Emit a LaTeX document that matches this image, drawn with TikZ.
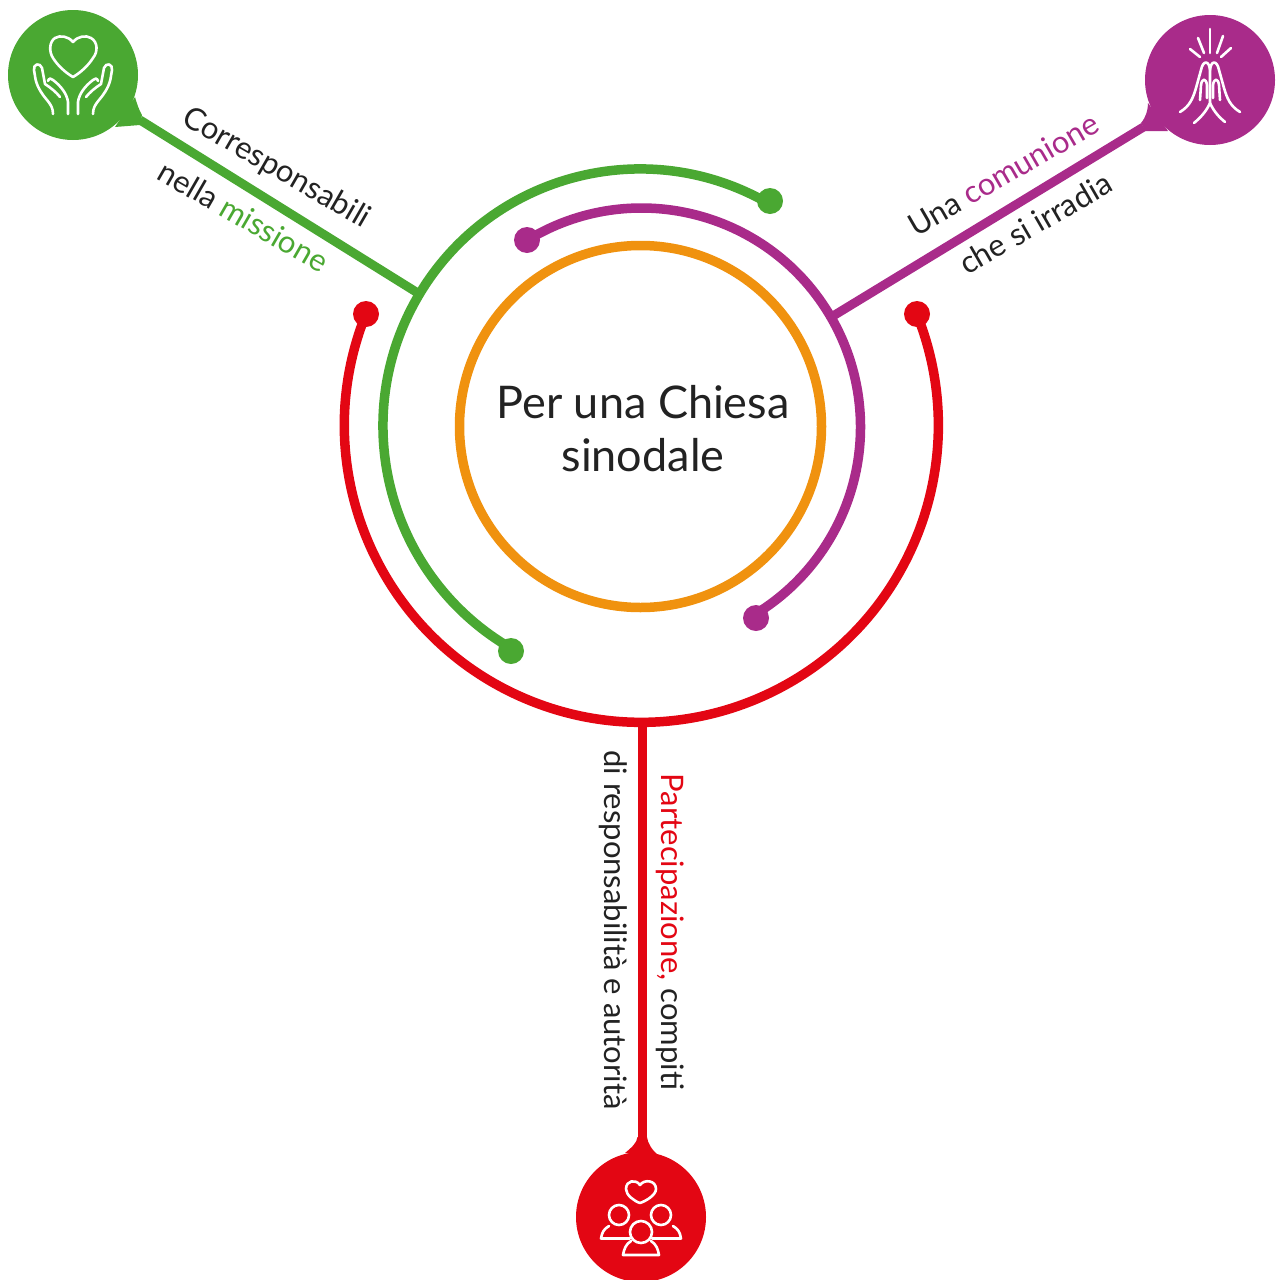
\documentclass[tikz,border=0pt]{standalone}
\usepackage{fontspec}
\setmainfont{Lato}
\definecolor{cgreen}{HTML}{4AA832}
\definecolor{cpurple}{HTML}{A92B8A}
\definecolor{cred}{HTML}{E30613}
\definecolor{corange}{HTML}{F0920F}
\definecolor{ctext}{HTML}{222222}
\tikzset{
  ring/.style={line width=9.5pt},
  spoke/.style={line width=9pt},
  badge/.style={circle,minimum size=130pt,inner sep=0pt,fill=#1},
  blob/.style={circle,minimum size=26pt,inner sep=0pt,fill=#1},
  icon/.style={draw=white,line width=2.6pt,line cap=round,line join=round,fill=none},
  lab/.style={font=\fontsize{31}{31}\selectfont,text=ctext,inner sep=0pt,text height=23pt,text depth=7pt},
  title/.style={font=\fontsize{45}{53}\selectfont,text=ctext,align=center,inner sep=0pt}
}
\begin{document}
\begin{tikzpicture}[x=1pt,y=-1pt]
\useasboundingbox (0,0) rectangle (1275,1280);
% centre
\node[title] (t) at (643,429) {Per una Chiesa\\sinodale};
\draw[corange,ring] (640.5,426.5) circle[radius=181];
% badges
\node[badge=cgreen] (bg) at (73,75) {};
\node[badge=cpurple] (bp) at (1210,80) {};
\node[badge=cred] (br) at (641,1217) {};
% dots
\node[blob=cgreen] (g1) at (770,201) {};
\node[blob=cgreen] (g2) at (511,651) {};
\node[blob=cpurple] (p1) at (527,240) {};
\node[blob=cpurple] (p2) at (756,618) {};
\node[blob=cred] (r1) at (366,314) {};
\node[blob=cred] (r2) at (917,314) {};
% connectors
\coordinate (gs) at (140,120);
\coordinate (ps) at (1143.5,127);
\coordinate (rs) at (642,1137);
\coordinate (gj) at (417,292.5);
\coordinate (pj) at (833,316);
\coordinate (rj) at (642,724);
\draw[cgreen,spoke] (gs) -- (gj);
\draw[cpurple,spoke] (ps) -- (pj);
\draw[cred,spoke] (rs) -- (rj);
% funnels
\fill[cgreen] (135,97) .. controls (137,104) and (139,110) .. (142,115) -- (140,125) -- (115,127) -- cycle;
\fill[cpurple] (1148,103) .. controls (1148,110) and (1146,117) .. (1141,123) -- (1145,131) -- (1168,131) -- cycle;
\fill[cred] (625,1153) .. controls (631,1148) and (637,1143) .. (637.5,1137) -- (647,1137) .. controls (647.5,1143) and (652,1150) .. (658,1155) -- cycle;
% arcs
\coordinate (ga) at (768.5,203.4);
\coordinate (pa) at (527.1,240.3);
\draw[cred,ring] (r1) arc[start angle=158,end angle=382,x radius=297,y radius=-297];
\draw[cgreen,ring] (ga) arc[start angle=60,end angle=240,x radius=257,y radius=-257];
\draw[cpurple,ring] (pa) arc[start angle=121.5,end angle=-59,x radius=219,y radius=-219];
% labels
\node[lab,rotate=-30] (l1) at (276,169) {Corresponsabili};
\node[lab,rotate=-30] (l2) at (242,219) {nella \textcolor{cgreen}{missione}};
\node[lab,rotate=30] (l3) at (1005,177) {Una \textcolor{cpurple}{comunione}};
\node[lab,rotate=30] (l4) at (1037,226) {che si irradia};
\node[lab,rotate=-90] (l5) at (669,932) {\textcolor{cred}{Partecipazione,} compiti};
\node[lab,rotate=-90] (l6) at (612,930) {di responsabilità e autorità};
% icon: hands and heart
\draw[icon] (73,42) .. controls (68,36) and (60,35) .. (55,38) .. controls (49,42) and (49,52) .. (53,58) .. controls (58,66) and (66,73) .. (73,77) .. controls (80,73) and (88,66) .. (93,58) .. controls (98,52) and (98,42) .. (91,38) .. controls (86,35) and (78,36) .. (73,42) -- cycle;
\foreach \s/\c in {1/73,-1/73}{
\begin{scope}[shift={(\c,0)},xscale=\s]
\draw[icon] (-20,114) .. controls (-20,108) and (-22,105) .. (-26,100) .. controls (-32,93) and (-37,85) .. (-38,76) -- (-39,70) .. controls (-40,64) and (-33,62) .. (-31,68) -- (-28,84) .. controls (-22,88) and (-17,92) .. (-13,97);
\draw[icon] (-25,81) .. controls (-24,78) and (-22,78) .. (-20,80) .. controls (-12,86) and (-6,94) .. (-5,102) -- (-5,114);
\end{scope}}
% icon: praying hands
\draw[icon] (1210,29) -- (1210,53);
\draw[icon] (1198,38) -- (1204,53);
\draw[icon] (1223,36) -- (1217,53);
\draw[icon] (1190,49) -- (1200,57);
\draw[icon] (1231,48) -- (1221,57);
\draw[icon] (1180,112) .. controls (1190,106) and (1193,98) .. (1196,88) -- (1201,70) .. controls (1203,60) and (1209,60) .. (1210,70) -- (1210,103) .. controls (1206,112) and (1200,118) .. (1194,123);
\draw[icon] (1240,112) .. controls (1230,106) and (1227,98) .. (1224,88) -- (1219,70) .. controls (1217,60) and (1211,60) .. (1210,70);
\draw[icon] (1210,103) .. controls (1214,112) and (1220,118) .. (1225,122);
\draw[icon] (1200,100) -- (1201,85) .. controls (1202,78) and (1206,78) .. (1207,85) -- (1207,98);
\draw[icon] (1220,100) -- (1219,85) .. controls (1218,78) and (1214,78) .. (1213,85) -- (1213,98);
% icon: people and heart
\draw[icon] (640,1185) .. controls (636,1179) and (626,1180) .. (626,1189) .. controls (626,1195) and (634,1201) .. (640,1203) .. controls (646,1201) and (656,1195) .. (656,1189) .. controls (656,1180) and (644,1179) .. (640,1185) -- cycle;
\draw[icon] (619,1215) circle[radius=10];
\draw[icon] (661,1215) circle[radius=10];
\draw[icon] (641,1232) circle[radius=11];
\draw[icon] (630,1238.5) -- (601,1238.5) .. controls (602,1232) and (604,1229) .. (609,1226);
\draw[icon] (652,1238.5) -- (681,1238.5) .. controls (680,1232) and (678,1229) .. (673,1226);
\draw[icon] (631,1241) .. controls (626,1244) and (624,1249) .. (623,1255) -- (659,1255) .. controls (658,1249) and (656,1244) .. (651,1241);
\end{tikzpicture}
\end{document}
